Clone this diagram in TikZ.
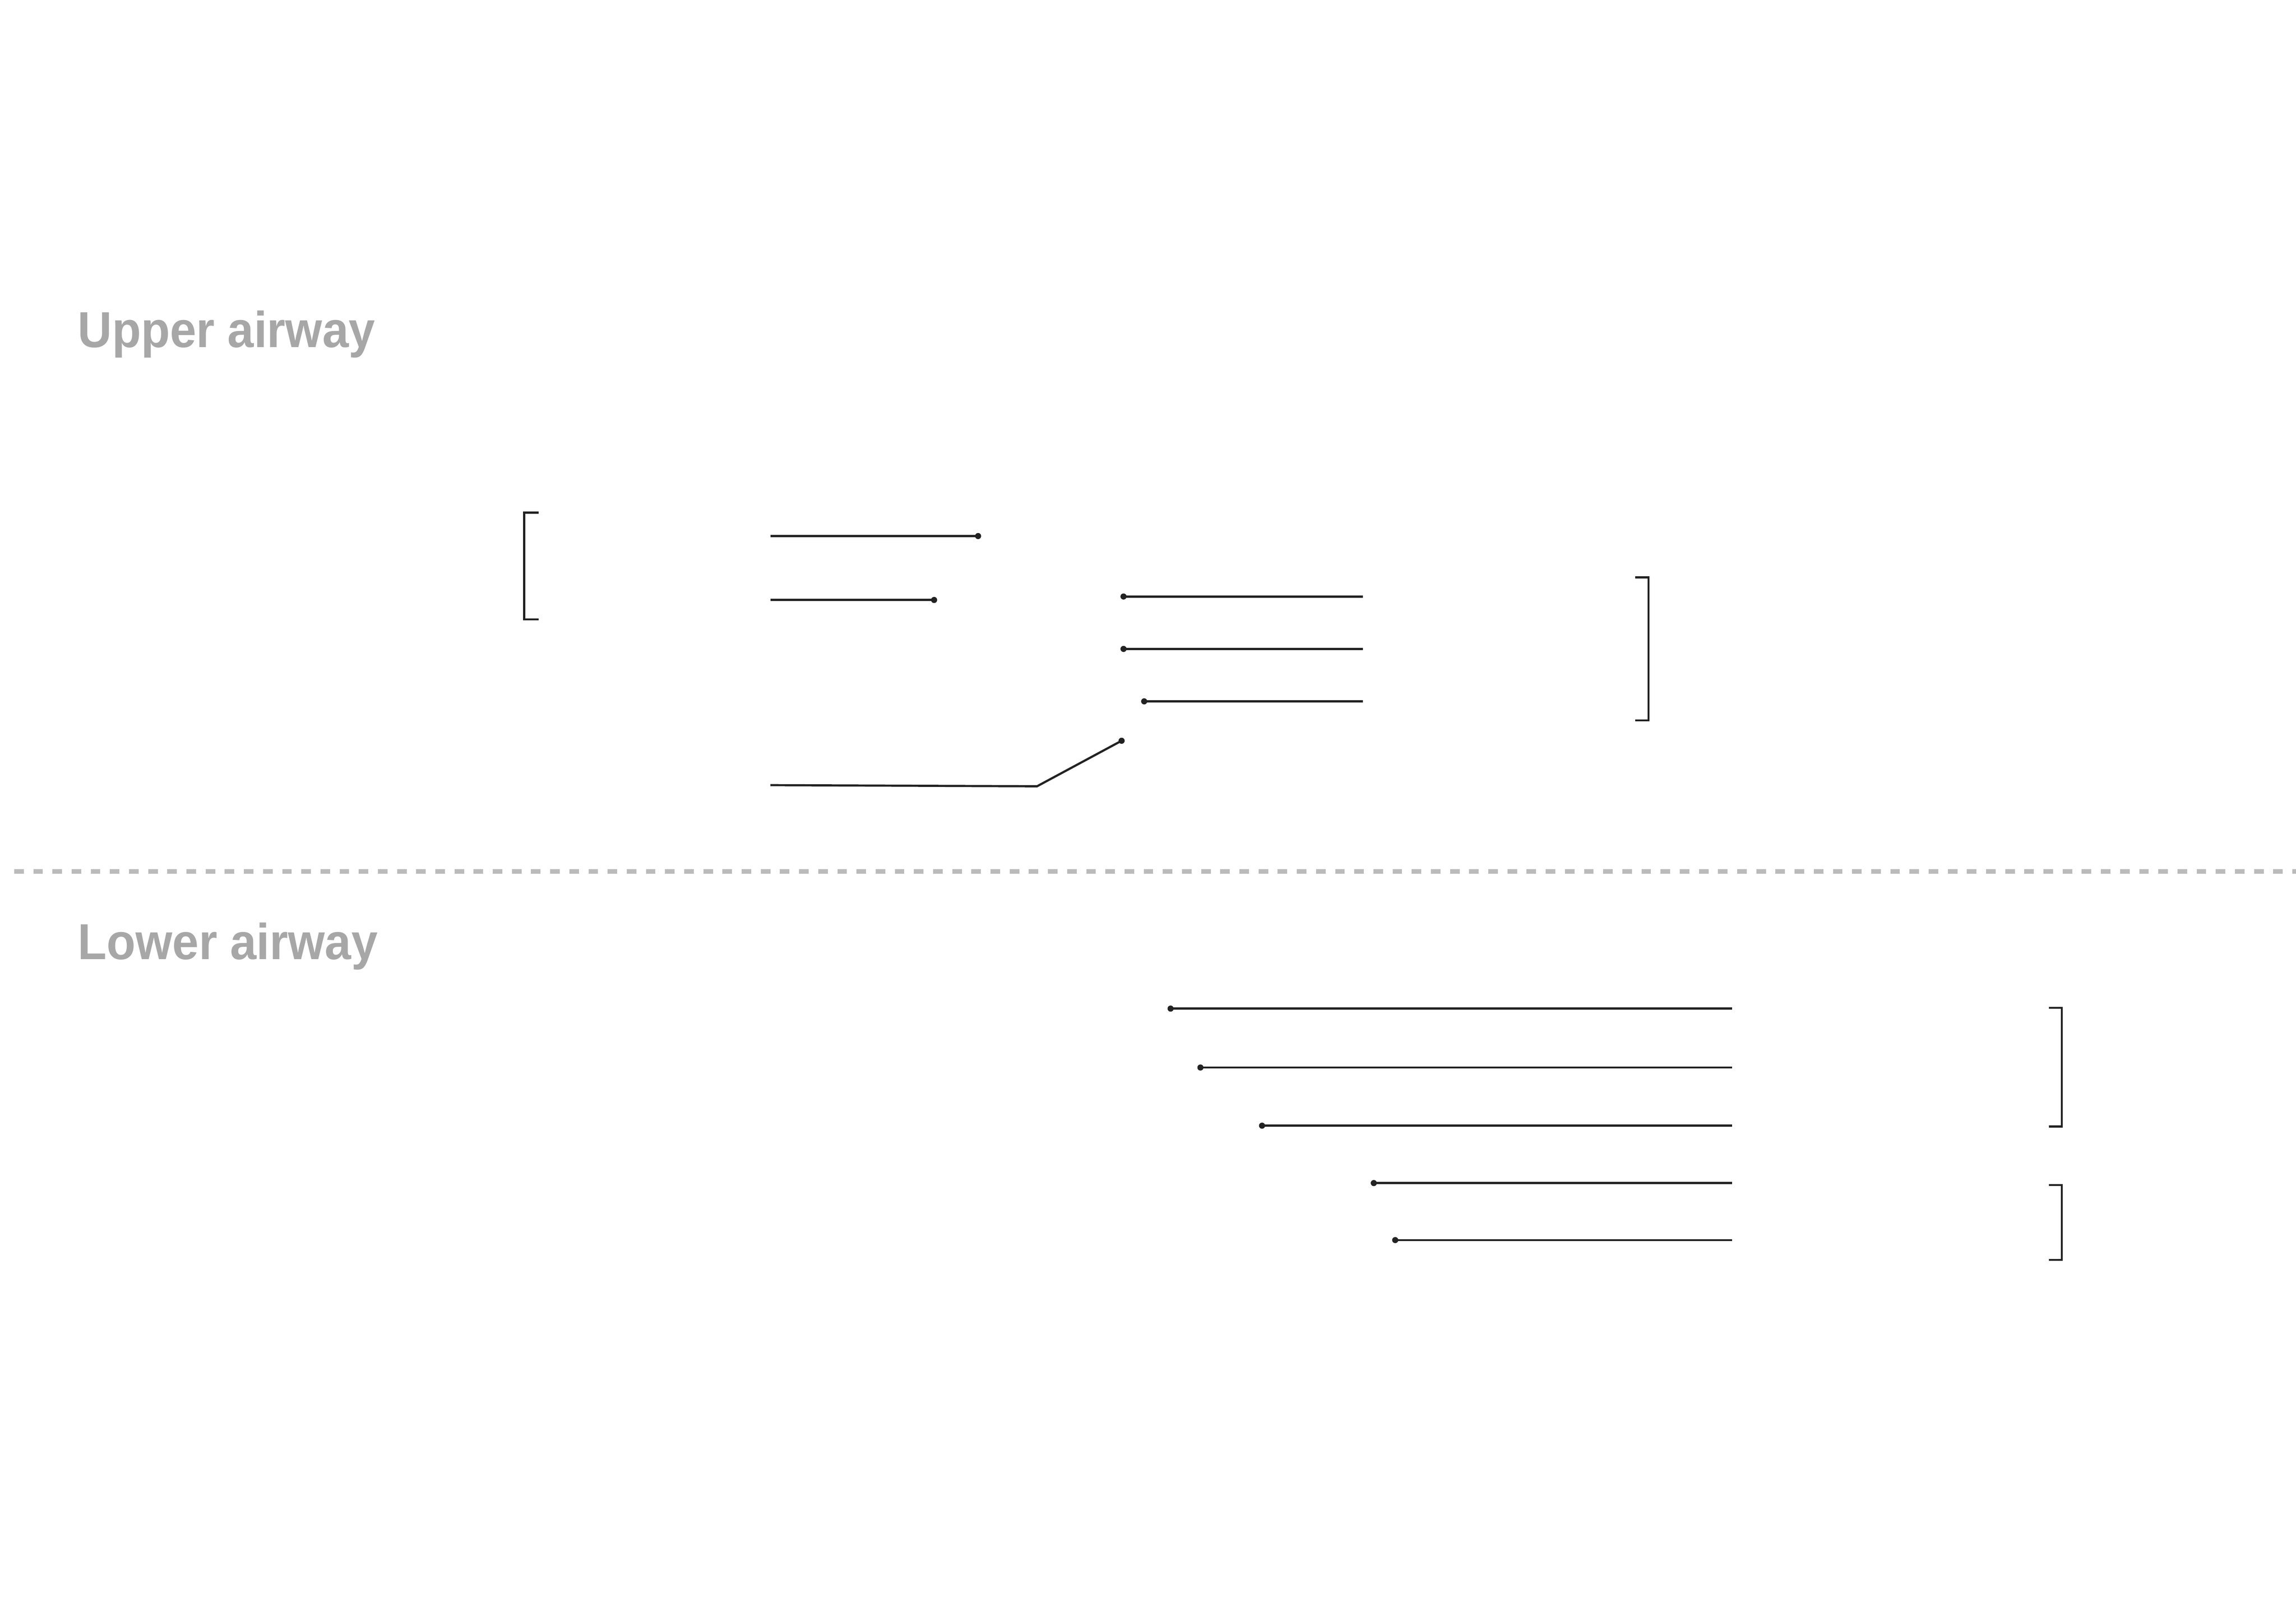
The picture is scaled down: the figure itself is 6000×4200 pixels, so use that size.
\documentclass[tikz,border=0pt]{standalone}
\usepackage{fontspec}
\newfontfamily\lblfont[FakeStretch=0.935]{Liberation Sans}
\definecolor{linecol}{HTML}{222222}
\definecolor{titlegray}{HTML}{A7A7A8}
\definecolor{sepgray}{HTML}{BBBBBB}
\begin{document}
\begin{tikzpicture}[x=0.01cm,y=-0.01cm,
  leader/.style={draw=linecol, line width=1.6pt},
  brk/.style={draw=linecol, line width=1.5pt, line cap=butt, line join=miter},
  dotmark/.style={circle, fill=linecol, inner sep=0pt, minimum size=0.16cm},
  sectitle/.style={anchor=base west, inner sep=0pt, text=titlegray, font=\lblfont\bfseries\fontsize{37.6}{40}\selectfont},
  sepline/.style={draw=sepgray, line width=3.4pt, dash pattern=on 0.25cm off 0.25cm}]
\useasboundingbox (0,0) rectangle (6000,4200);
\fill[white] (0,0) rectangle (6000,4200);

% section titles
\node[sectitle] (upper) at (203,908) {Upper airway};
\node[sectitle] (lower) at (203,2507) {Lower airway};

% separator
\coordinate (sepL) at (37,2278);
\coordinate (sepR) at (6000,2278);
\draw[sepline] (sepL) -- (sepR);

% ---------- upper airway ----------
% left bracket
\coordinate (ulA) at (1408,1340);
\coordinate (ulB) at (1370,1340);
\coordinate (ulC) at (1370,1619);
\coordinate (ulD) at (1408,1619);
\draw[brk] (ulA) -- (ulB) -- (ulC) -- (ulD);

% leaders pointing right
\coordinate (la) at (2013,1401);
\node[dotmark] (da) at (2556,1401) {};
\draw[leader] (la) -- (da.center);

\coordinate (lb) at (2013,1568);
\node[dotmark] (db) at (2441,1568) {};
\draw[leader] (lb) -- (db.center);

\coordinate (lc) at (2013,2052);
\coordinate (lcK) at (2710,2055);
\node[dotmark] (dc) at (2931,1936) {};
\draw[leader] (lc) -- (lcK) -- (dc.center);

% leaders pointing left
\node[dotmark] (dd) at (2936,1559) {};
\coordinate (rd) at (3561,1559);
\draw[leader] (dd.center) -- (rd);

\node[dotmark] (de) at (2936,1696) {};
\coordinate (re) at (3561,1696);
\draw[leader] (de.center) -- (re);

\node[dotmark] (df) at (2990,1833) {};
\coordinate (rf) at (3561,1833);
\draw[leader] (df.center) -- (rf);

% right bracket
\coordinate (urA) at (4273,1509);
\coordinate (urB) at (4308,1509);
\coordinate (urC) at (4308,1883);
\coordinate (urD) at (4273,1883);
\draw[brk] (urA) -- (urB) -- (urC) -- (urD);

% ---------- lower airway ----------
\node[dotmark] (dg) at (3059,2636) {};
\coordinate (rg) at (4526,2636);
\draw[leader] (dg.center) -- (rg);

\node[dotmark] (dh) at (3137,2790) {};
\coordinate (rh) at (4526,2790);
\draw[leader] (dh.center) -- (rh);

\node[dotmark] (di) at (3298,2942) {};
\coordinate (ri) at (4526,2942);
\draw[leader] (di.center) -- (ri);

\node[dotmark] (dj) at (3590,3092) {};
\coordinate (rj) at (4526,3092);
\draw[leader] (dj.center) -- (rj);

\node[dotmark] (dk) at (3646,3241) {};
\coordinate (rk) at (4526,3241);
\draw[leader] (dk.center) -- (rk);

% lower brackets
\coordinate (b1A) at (5354,2634);
\coordinate (b1B) at (5388,2634);
\coordinate (b1C) at (5388,2944);
\coordinate (b1D) at (5354,2944);
\draw[brk] (b1A) -- (b1B) -- (b1C) -- (b1D);

\coordinate (b2A) at (5354,3097);
\coordinate (b2B) at (5388,3097);
\coordinate (b2C) at (5388,3293);
\coordinate (b2D) at (5354,3293);
\draw[brk] (b2A) -- (b2B) -- (b2C) -- (b2D);
\end{tikzpicture}
\end{document}
